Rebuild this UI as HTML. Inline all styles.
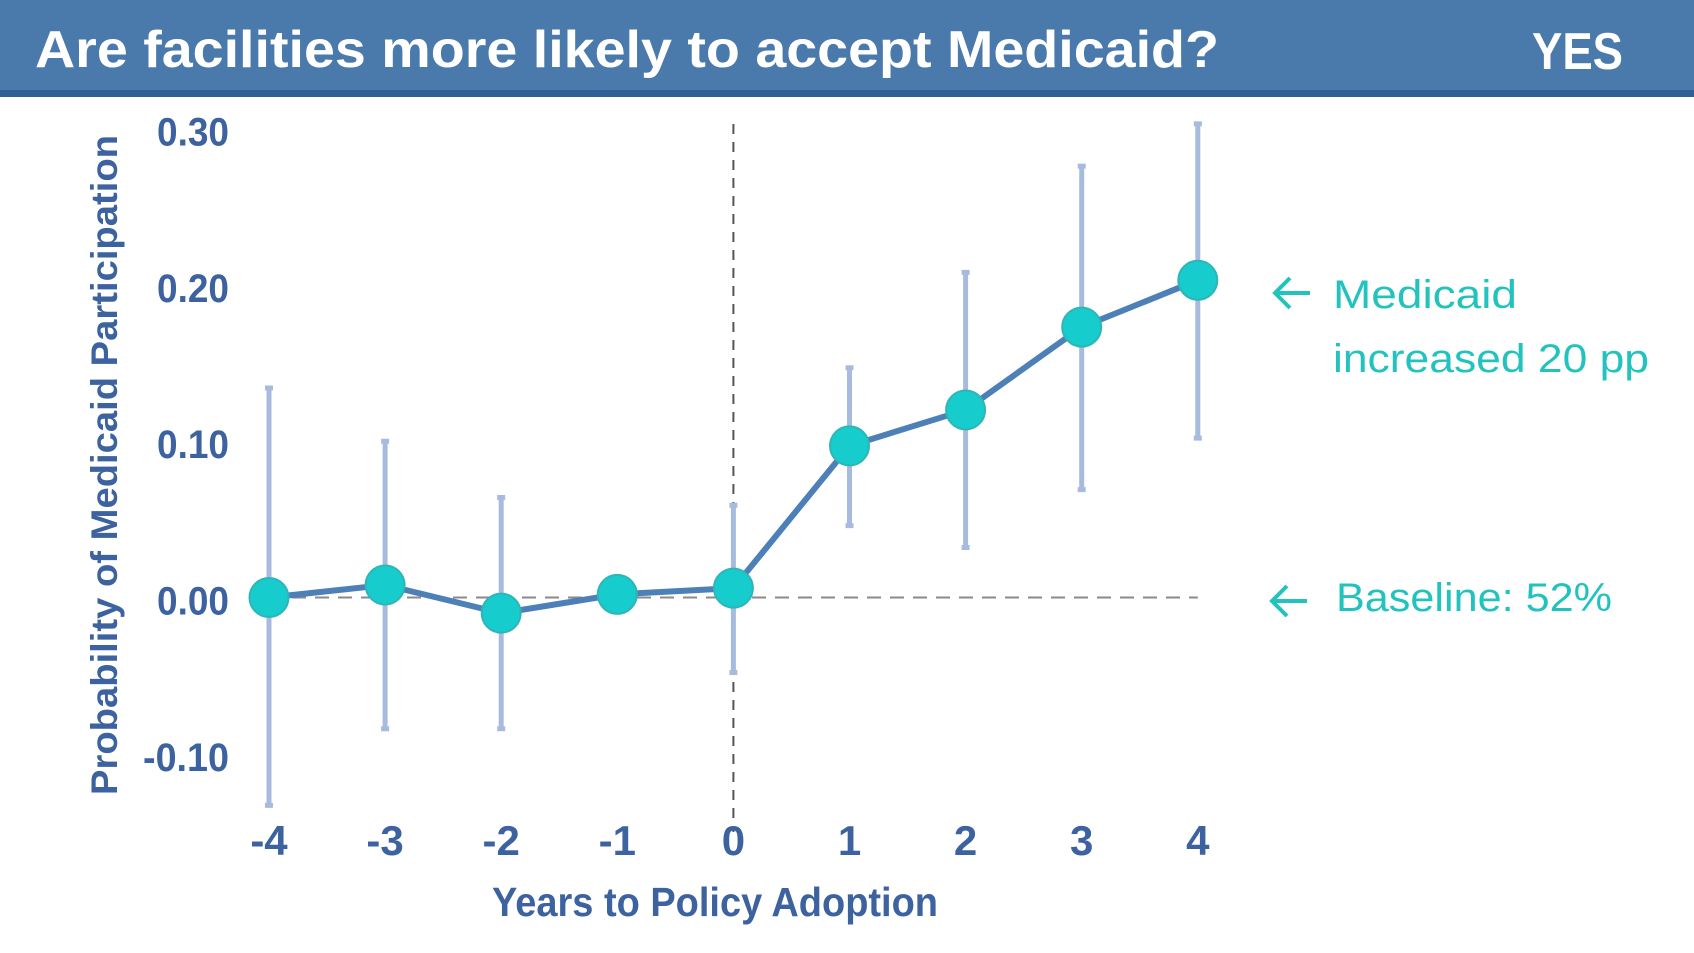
<!DOCTYPE html>
<html><head><meta charset="utf-8"><style>body{margin:0;background:#fff}svg{display:block}</style></head>
<body>
<svg width="1694" height="953" viewBox="0 0 1694 953" xmlns="http://www.w3.org/2000/svg" font-family="Liberation Sans, sans-serif">
<rect x="0" y="0" width="1694" height="92" fill="#4a7aac"/>
<rect x="0" y="90" width="1694" height="7" fill="#2f5f96"/>
<text x="35" y="67" font-size="52" font-weight="bold" fill="#fff" textLength="1184" lengthAdjust="spacingAndGlyphs">Are facilities more likely to accept Medicaid?</text>
<text x="1532" y="69" font-size="52" font-weight="bold" fill="#fff" textLength="91" lengthAdjust="spacingAndGlyphs">YES</text>
<g id="plot"></g>
<text transform="translate(117,465) rotate(-90)" text-anchor="middle" font-size="37" font-weight="bold" fill="#3d62a0" textLength="660" lengthAdjust="spacingAndGlyphs">Probability of Medicaid Participation</text>
<text x="715" y="916" text-anchor="middle" font-size="41" font-weight="bold" fill="#3d62a0" textLength="446" lengthAdjust="spacingAndGlyphs">Years to Policy Adoption</text>
<g fill="#22c3bf" font-size="40">
<path d="M1310,293H1275M1290,278L1275,293L1290,308" stroke="#22c3bf" stroke-width="4" fill="none"/>
<text x="1333" y="308" textLength="184" lengthAdjust="spacingAndGlyphs">Medicaid</text>
<text x="1333" y="372" textLength="316" lengthAdjust="spacingAndGlyphs">increased 20 pp</text>
<path d="M1307,601H1272M1287,586L1272,601L1287,616" stroke="#22c3bf" stroke-width="4" fill="none"/>
<text x="1336" y="611" textLength="276" lengthAdjust="spacingAndGlyphs">Baseline: 52%</text>
</g>
</svg>
<script>
const years = [-4,-3,-2,-1,0,1,2,3,4];
const estimates = [0.0,0.008,-0.01,0.002,0.006,0.097,0.12,0.173,0.203];
const upper = [0.134,0.10,0.064,null,0.059,0.147,0.208,0.276,0.303];
const lower = [-0.133,-0.084,-0.084,null,-0.048,0.046,0.032,0.069,0.102];
const yTicks = [0.30,0.20,0.10,0.00,-0.10];
const yTickLabels = ["0.30","0.20","0.10","0.00","-0.10"];

const NS="http://www.w3.org/2000/svg";
const plot=document.getElementById('plot');
const xs=v=>269+(v+4)*116.1;
const ys=v=>597.5-v*1563;
function mk(tag,attrs){const e=document.createElementNS(NS,tag);for(const k in attrs)e.setAttribute(k,attrs[k]);plot.appendChild(e);return e;}
let l=mk('line',{x1:xs(-4),x2:xs(4),y1:ys(0),y2:ys(0),stroke:'#8a8a8a','stroke-width':2,'stroke-dasharray':'14 9'});


l=mk('line',{x1:xs(0),x2:xs(0),y1:124,y2:832,stroke:'#555','stroke-width':2,'stroke-dasharray':'10 8'});


yTicks.forEach((t,i)=>{const e=mk('text',{x:229,y:ys(t)+17,'text-anchor':'end','font-size':40,'font-weight':'bold',fill:'#3d62a0',textLength:t<0?86:72,lengthAdjust:'spacingAndGlyphs'});e.textContent=yTickLabels[i];

});
years.forEach(y=>{const e=mk('text',{x:xs(y),y:855,'text-anchor':'middle','font-size':42,'font-weight':'bold',fill:'#3d62a0'});e.textContent=String(y);

});
years.forEach((y,i)=>{if(upper[i]==null)return;const x=xs(y);
const g=mk('path',{d:`M${x},${ys(upper[i])}V${ys(lower[i])}M${x-4},${ys(upper[i])}H${x+4}M${x-4},${ys(lower[i])}H${x+4}`,stroke:'#a7bbdf','stroke-width':5,fill:'none'});

});
const ln=mk('polyline',{points:years.map((y,i)=>xs(y)+','+ys(estimates[i])).join(' '),fill:'none',stroke:'#4d80b6','stroke-width':6,'stroke-linejoin':'round'});


years.forEach((y,i)=>{const c=mk('circle',{cx:xs(y),cy:ys(estimates[i]),r:19.5,fill:'#16cccc',stroke:'#2fb5b8','stroke-width':2});

});
</script>
</body></html>
